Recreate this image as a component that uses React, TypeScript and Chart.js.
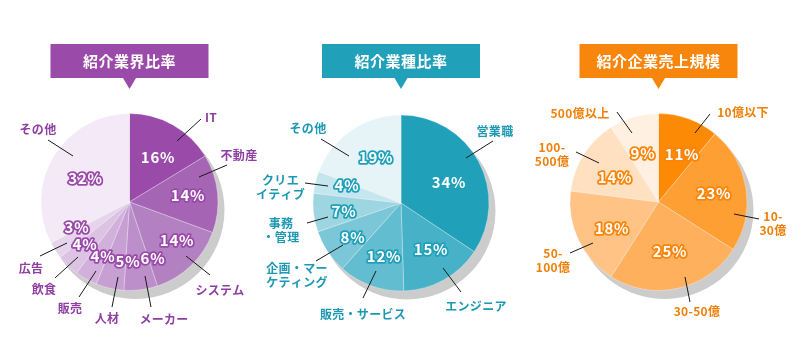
import React, { useEffect, useRef } from "react";
import { Chart, ArcElement, PieController } from "chart.js";

Chart.register(ArcElement, PieController);

// ---------- data ----------
const industryLabels = ["IT", "不動産", "システム", "メーカー", "人材", "販売", "飲食", "広告", "その他"];
const industryValues = [16, 14, 14, 6, 5, 4, 4, 3, 32];

const jobLabels = ["営業職", "エンジニア", "販売・サービス", "企画・マーケティング", "事務・管理", "クリエイティブ", "その他"];
const jobValues = [34, 15, 12, 8, 7, 4, 19];

const revenueLabels = ["10億以下", "10-30億", "30-50億", "50-100億", "100-500億", "500億以上"];
const revenueValues = [11, 23, 25, 18, 14, 9];

// how the category names are broken into lines on the picture
const industryLines = industryLabels.map((l) => [l]);
const jobLines = [["営業職"], ["エンジニア"], ["販売・サービス"], ["企画・マー", "ケティング"], ["事務", "・管理"], ["クリエ", "イティブ"], ["その他"]];
const revenueLines = [["10億以下"], ["10-", "30億"], ["30-50億"], ["50-", "100億"], ["100-", "500億"], ["500億以上"]];

// ---------- styles ----------
const industryColors = ["#9a4aa9", "#a664b5", "#b380c2", "#bd8fca", "#c79fd3", "#d1b1dc", "#dcc3e4", "#e6d4ec", "#f4e9f6"];
const jobColors = ["#21a0ba", "#47b1c7", "#63bdd0", "#7cc7d7", "#9dd5e1", "#c4e6ee", "#e6f4f8"];
const revenueColors = ["#fd8a04", "#fe9f34", "#ffb05c", "#ffc386", "#ffe1c1", "#fff0e1"];

// ---------- layout (annotation offsets relative to the pie centre) ----------
const industryPct = [[28.5, -45], [58.5, -7], [47.5, 38], [23.5, 56], [-1.5, 59], [-26.5, 54], [-44.5, 42], [-52.5, 25], [-44, -24]];
const industryLeaders = [
  [47.5, -61, 71.5, -83, 81.5, -85],
  [69.5, -25, 97.5, -37, 109.5, -47],
  [56.5, 54, 80.5, 73, 90.5, 88],
  [15.5, 74, 21.5, 105, 34.5, 117],
  [-11.5, 75, -17.5, 105, -22.5, 116],
  [-33.5, 69, -50.5, 95, -59.5, 106],
  [-51.5, 55, -74.5, 76, -85.5, 87],
  [-62.5, 41, -89.5, 54, -98.5, 66],
  [-56.5, -46, -81.5, -62, -91.5, -73],
];
const jobPct = [[48, -21], [30, 46], [-17, 53], [-48, 34], [-57, 8], [-54, -18], [-25, -46]];
const jobLeaders = [
  [65, -45, 92, -62, 94, -71.5],
  [42, 65, 60, 89, 75, 103],
  [-25, 68, -38, 95, -38, 111],
  [-58, 42, -85, 58, -104, 72.5],
  [-73, 14, -94, 20, -120, 27],
  [-73, -17, -96, -20, -120.5, -15.5],
  [-52, -47, -80, -64, -93, -75],
];
const revenuePct = [[23.5, -48], [55.5, -9], [11.5, 49], [-46.5, 26], [-43.5, -25], [-15.5, -49]];
const revenueLeaders = [
  [36.5, -69, 51.5, -88, 84.5, -90],
  [75.5, 12, 100.5, 17, 114.5, 21.5],
  [26.5, 75, 31.5, 100, 38.5, 109],
  [-65.5, 41, -88.5, 51, -105.5, 58.5],
  [-59.5, -39, -82.5, -50, -106.5, -47.5],
  [-26.5, -69, -41.5, -90, -78.5, -89],
];

const W = 798;
const H = 358;
const FONT = "'Noto Sans CJK JP', 'Noto Sans', sans-serif";

type Cfg = {
  title: string;
  labels: string[];
  values: number[];
  lines: string[][];
  colors: string[];
  theme: string;
  textColor: string;
  cx: number;
  cy: number;
  r: number;
  pct: number[][];
  leaders: number[][];
};

const charts: Cfg[] = [
  {
    title: "紹介業界比率", labels: industryLabels, values: industryValues, lines: industryLines,
    colors: industryColors, theme: "#9a4aa9", textColor: "#8f3fa2",
    cx: 129.5, cy: 202, r: 88.5, pct: industryPct, leaders: industryLeaders,
  },
  {
    title: "紹介業種比率", labels: jobLabels, values: jobValues, lines: jobLines,
    colors: jobColors, theme: "#21a0ba", textColor: "#1d98b3",
    cx: 401, cy: 203, r: 88, pct: jobPct, leaders: jobLeaders,
  },
  {
    title: "紹介企業売上規模", labels: revenueLabels, values: revenueValues, lines: revenueLines,
    colors: revenueColors, theme: "#f8850c", textColor: "#ef8009",
    cx: 658.5, cy: 202, r: 88.5, pct: revenuePct, leaders: revenueLeaders,
  },
];

function decor(cfg: Cfg) {
  return {
    id: "pieDecor",
    beforeDatasetsDraw(chart: any) {
      const ctx: CanvasRenderingContext2D = chart.ctx;
      const arc = chart.getDatasetMeta(0).data[0];
      const { x, y, outerRadius } = arc.getProps(["x", "y", "outerRadius"], true);
      ctx.save();
      ctx.fillStyle = "#cccccc";
      ctx.beginPath();
      ctx.arc(x + 6, y + 8, outerRadius + 0.5, 0, Math.PI * 2);
      ctx.fill();
      ctx.restore();
    },
    afterDatasetsDraw(chart: any) {
      const ctx: CanvasRenderingContext2D = chart.ctx;
      const meta = chart.getDatasetMeta(0);
      const arc0 = meta.data[0];
      const { x: cx, y: cy } = arc0.getProps(["x", "y"], true);
      ctx.save();

      // banner
      const bw = 158, bTop = 44, bh = 34;
      ctx.fillStyle = cfg.theme;
      ctx.fillRect(cx - bw / 2, bTop, bw, bh);
      ctx.beginPath();
      ctx.moveTo(cx - 6.5, bTop + bh);
      ctx.lineTo(cx + 6.5, bTop + bh);
      ctx.lineTo(cx, bTop + bh + 11);
      ctx.closePath();
      ctx.fill();
      ctx.fillStyle = "#ffffff";
      ctx.font = `bold 15px ${FONT}`;
      (ctx as any).letterSpacing = "0.5px";
      ctx.textAlign = "center";
      ctx.textBaseline = "middle";
      ctx.fillText(cfg.title, cx, bTop + bh / 2 + 0.5);

      // leader lines
      ctx.strokeStyle = "#1a1a1a";
      ctx.lineWidth = 1;
      cfg.leaders.forEach((l) => {
        ctx.beginPath();
        ctx.moveTo(cx + l[0], cy + l[1]);
        ctx.lineTo(cx + l[2], cy + l[3]);
        ctx.stroke();
      });

      // category labels
      ctx.fillStyle = cfg.textColor;
      ctx.font = `bold 12px ${FONT}`;
      (ctx as any).letterSpacing = "0.3px";
      cfg.leaders.forEach((l, i) => {
        const lines = cfg.lines[i];
        const lh = 14;
        const y0 = cy + l[5] - ((lines.length - 1) * lh) / 2;
        lines.forEach((t, k) => ctx.fillText(t, cx + l[4], y0 + k * lh));
      });

      // percentages
      ctx.font = `bold 15px ${FONT}`;
      (ctx as any).letterSpacing = "0.8px";
      ctx.lineJoin = "round";
      ctx.lineWidth = 3.5;
      ctx.strokeStyle = cfg.theme;
      cfg.values.forEach((v, i) => {
        const p = cfg.pct[i];
        const t = `${v}%`;
        ctx.strokeText(t, cx + p[0], cy + p[1]);
        ctx.fillStyle = "#ffffff";
        ctx.fillText(t, cx + p[0], cy + p[1]);
      });
      ctx.restore();
    },
  };
}

function PieCanvas({ cfg }: { cfg: Cfg }) {
  const ref = useRef<HTMLCanvasElement | null>(null);
  useEffect(() => {
    if (!ref.current) return;
    const box = 100;
    const chart = new Chart(ref.current, {
      type: "pie",
      data: {
        labels: cfg.labels,
        datasets: [
          {
            data: cfg.values,
            backgroundColor: cfg.colors,
            borderColor: "rgba(255,255,255,0.3)",
            borderWidth: 1,
          },
        ],
      },
      options: {
        responsive: false,
        animation: false,
        events: [],
        radius: cfg.r,
        layout: {
          padding: {
            left: cfg.cx - box,
            right: W - cfg.cx - box,
            top: cfg.cy - box,
            bottom: H - cfg.cy - box,
          },
        },
        plugins: {
          legend: { display: false },
          tooltip: { enabled: false },
        },
      } as any,
      plugins: [decor(cfg) as any],
    });
    return () => chart.destroy();
  }, [cfg]);
  return (
    <canvas
      ref={ref}
      width={W}
      height={H}
      style={{ position: "absolute", left: 0, top: 0, width: W, height: H }}
    />
  );
}

export default function App() {
  return (
    <div style={{ position: "fixed", left: 0, top: 0, width: W, height: H, background: "#ffffff" }}>
      {charts.map((c) => (
        <PieCanvas key={c.title} cfg={c} />
      ))}
    </div>
  );
}
